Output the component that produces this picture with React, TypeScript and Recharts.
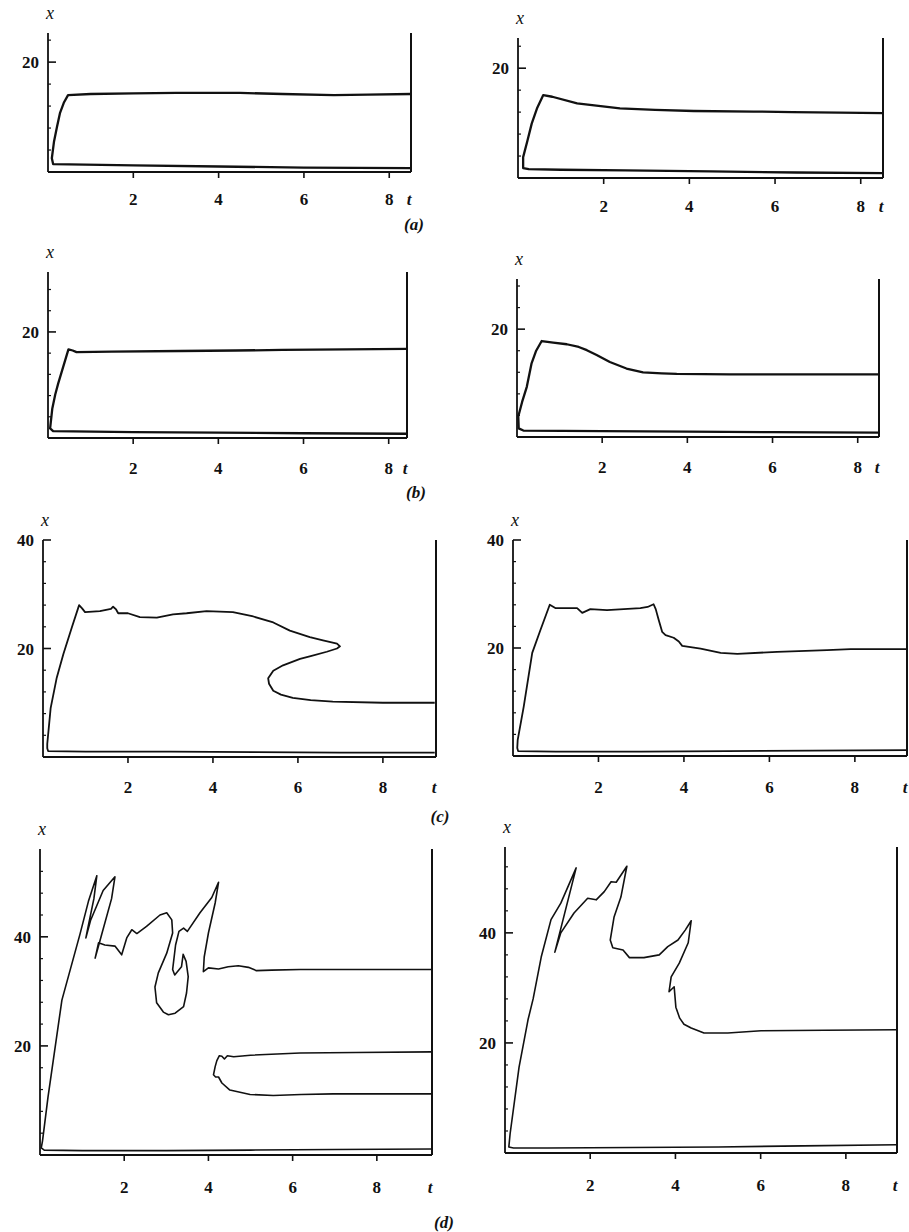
import React from 'react';
import { LineChart, Line, XAxis, YAxis, ReferenceLine } from 'recharts';

type Pt = [number, number];

// ---- tick labels / names ----
const tTickValues = [2, 4, 6, 8];
const tTickLabels = ['2', '4', '6', '8'];
const tAxisName = 't';
const xAxisName = 'x';
const captions = ['(a)', '(b)', '(c)', '(d)'];
const yMajorLow = [20];
const yMajorHigh = [20, 40];
const yMinorLow = [4, 8, 12, 16, 24, 28];
const yMinorHigh = [4, 8, 12, 16, 24, 28, 32, 36, 44, 48, 52];

// ---- curves: [t, x] in drawing order ----
const aLeftCurve: Pt[] = [
  [8.51, 0.7], [6.0, 0.8], [4.0, 1.0], [2.0, 1.2], [0.12, 1.45], [0.09, 2.5], [0.14, 5.5],
  [0.21, 8.2], [0.28, 10.7], [0.37, 12.6], [0.47, 14.0], [1.0, 14.2], [2.0, 14.3], [3.0, 14.4],
  [4.5, 14.4], [5.5, 14.2], [6.7, 14.0], [7.5, 14.1], [8.51, 14.2],
];
const aRightCurve: Pt[] = [
  [8.52, 0.9], [6.5, 1.0], [4.5, 1.2], [2.5, 1.4], [1.0, 1.5], [0.25, 1.6], [0.12, 1.8],
  [0.12, 3.8], [0.22, 6.8], [0.32, 9.9], [0.45, 12.8], [0.59, 15.1], [0.8, 14.8], [1.38, 13.6],
  [2.38, 12.7], [3.2, 12.4], [4.1, 12.2], [5.5, 12.1], [6.4, 12.0], [7.5, 11.9], [8.52, 11.8],
];
const bLeftCurve: Pt[] = [
  [8.43, 0.8], [6.0, 0.9], [4.0, 1.0], [2.0, 1.1], [0.12, 1.3], [0.05, 1.8], [0.1, 5.5],
  [0.17, 8.2], [0.24, 10.3], [0.36, 13.5], [0.48, 16.7], [0.58, 16.5], [0.67, 16.2], [1.5, 16.3],
  [3.1, 16.4], [4.4, 16.5], [5.5, 16.6], [7.0, 16.7], [8.43, 16.8],
];
const bRightCurve: Pt[] = [
  [8.5, 0.8], [6.0, 0.9], [4.0, 1.0], [2.0, 1.1], [0.15, 1.2], [0.04, 1.6], [0.03, 3.8],
  [0.12, 6.5], [0.23, 9.3], [0.34, 13.6], [0.45, 16.0], [0.58, 17.8], [0.85, 17.5], [1.17, 17.2],
  [1.45, 16.7], [1.64, 16.1], [1.87, 15.2], [2.18, 13.9], [2.57, 12.7], [2.96, 12.0], [3.4, 11.8],
  [3.75, 11.7], [5.0, 11.6], [6.5, 11.6], [8.5, 11.6],
];
const cLeftCurve: Pt[] = [
  [9.22, 0.8], [7.0, 0.8], [5.0, 0.9], [3.0, 1.0], [1.0, 1.0], [0.12, 1.1], [0.1, 1.6],
  [0.1, 2.4], [0.18, 9.0], [0.32, 14.5], [0.48, 19.0], [0.68, 23.9], [0.85, 28.0], [0.92, 27.4],
  [0.99, 26.7], [1.34, 26.9], [1.6, 27.3], [1.65, 27.7], [1.72, 27.2], [1.77, 26.5], [2.0, 26.5],
  [2.28, 25.8], [2.68, 25.7], [3.06, 26.3], [3.38, 26.5], [3.85, 26.9], [4.47, 26.7], [4.95, 25.9],
  [5.42, 24.8], [5.81, 23.3], [6.28, 22.1], [6.59, 21.5], [6.92, 20.9], [6.99, 20.4], [6.92, 20.0],
  [6.68, 19.4], [6.3, 18.6], [6.05, 18.1], [5.65, 16.9], [5.42, 15.9], [5.3, 14.5], [5.32, 13.5],
  [5.42, 12.2], [5.6, 11.5], [5.88, 10.9], [6.3, 10.5], [6.82, 10.2], [8.0, 10.0], [9.22, 10.0],
];
const cRightCurve: Pt[] = [
  [9.23, 1.1], [7.0, 1.0], [5.0, 0.9], [3.0, 0.8], [1.0, 0.8], [0.12, 0.9], [0.1, 1.5],
  [0.11, 3.0], [0.25, 9.1], [0.45, 19.1], [0.64, 23.3], [0.86, 28.0], [0.99, 27.4], [1.5, 27.4],
  [1.62, 26.5], [1.81, 27.2], [2.2, 27.0], [2.98, 27.4], [3.15, 27.6], [3.29, 28.1], [3.34, 27.2],
  [3.41, 25.2], [3.49, 23.0], [3.57, 22.4], [3.76, 21.9], [3.88, 21.2], [3.96, 20.4], [4.39, 19.9],
  [4.86, 19.1], [5.25, 18.9], [6.18, 19.3], [7.35, 19.6], [7.9, 19.8], [9.23, 19.8],
];
const dLeftCurve: Pt[] = [
  [9.3, 1.1], [7.0, 1.0], [5.0, 0.9], [3.0, 0.8], [1.0, 0.8], [0.1, 0.9], [0.03, 1.3],
  [0.06, 2.6], [0.19, 10.6], [0.52, 28.4], [0.95, 40.5], [1.15, 46.5], [1.35, 51.2], [1.28, 47.0],
  [1.12, 41.0], [1.09, 39.8], [1.2, 43.0], [1.5, 48.5], [1.78, 51.0], [1.7, 47.0], [1.45, 40.0],
  [1.31, 36.1], [1.39, 38.9], [1.54, 38.5], [1.78, 38.3], [1.94, 36.7], [2.06, 39.8], [2.18, 41.3],
  [2.3, 40.6], [2.53, 41.9], [2.85, 44.0], [3.01, 44.4], [3.13, 43.1], [3.15, 40.7], [3.01, 37.0],
  [2.81, 33.4], [2.73, 30.8], [2.77, 27.9], [2.93, 26.2], [3.05, 25.7], [3.21, 26.0], [3.41, 27.2],
  [3.48, 29.7], [3.52, 32.7], [3.47, 35.5], [3.4, 36.8], [3.36, 34.5], [3.2, 33.0], [3.15, 34.0],
  [3.22, 38.5], [3.3, 41.0], [3.41, 41.6], [3.5, 41.0], [3.8, 44.4], [4.08, 47.2], [4.24, 50.0],
  [4.16, 46.2], [4.0, 40.7], [3.9, 36.3], [3.88, 33.6], [4.0, 34.3], [4.24, 34.1], [4.47, 34.5],
  [4.71, 34.7], [4.95, 34.4], [5.14, 33.8], [5.5, 33.9], [6.18, 34.0], [9.3, 34.0],
];
const dLeftLoop: Pt[] = [
  [9.3, 18.9], [7.5, 18.8], [6.18, 18.7], [5.0, 18.3], [4.6, 18.0], [4.45, 18.2], [4.38, 17.6],
  [4.32, 18.1], [4.26, 18.2], [4.2, 17.3], [4.16, 16.2], [4.12, 14.7], [4.17, 14.3], [4.24, 14.3],
  [4.32, 13.2], [4.51, 11.9], [4.99, 11.1], [5.54, 10.9], [6.2, 11.1], [6.96, 11.2], [8.0, 11.2],
  [9.3, 11.2],
];
const dRightCurve: Pt[] = [
  [9.2, 1.5], [7.0, 1.3], [5.0, 1.1], [3.0, 1.0], [1.0, 0.9], [0.2, 0.9], [0.09, 1.1],
  [0.12, 3.5], [0.33, 15.6], [0.54, 24.2], [0.66, 28.0], [0.85, 35.6], [1.08, 42.4], [1.31, 45.4],
  [1.67, 51.8], [1.17, 36.5], [1.31, 40.0], [1.62, 43.6], [1.94, 46.3], [2.14, 46.0], [2.33, 47.5],
  [2.49, 49.3], [2.61, 49.2], [2.86, 52.1], [2.72, 46.5], [2.56, 42.9], [2.47, 38.7], [2.53, 37.3],
  [2.77, 36.9], [2.92, 35.5], [3.26, 35.5], [3.62, 36.0], [3.82, 37.5], [4.06, 38.7], [4.23, 40.5],
  [4.37, 42.2], [4.3, 38.2], [4.09, 34.5], [3.9, 32.0], [3.85, 29.3], [3.97, 30.2], [4.01, 26.5],
  [4.1, 24.5], [4.2, 23.4], [4.37, 22.7], [4.67, 21.8], [5.23, 21.8], [6.01, 22.2], [7.5, 22.3],
  [9.2, 22.4],
];

// ---- panel layout (pixel boxes of the plot areas) ----
type PanelCfg = {
  curves: Pt[][];
  L: number; T: number; R: number; B: number;
  tMax: number; yMax: number;
  majors: number[]; minors: number[];
  labelDy: number; sw: number;
};

const panels: PanelCfg[] = [
  { curves: [aLeftCurve], L: 48, T: 33, R: 411, B: 172, tMax: 8.51, yMax: 25.3, majors: yMajorLow, minors: yMinorLow, labelDy: 33, sw: 2.3 },
  { curves: [aRightCurve], L: 518, T: 38, R: 883, B: 178, tMax: 8.52, yMax: 25.5, majors: yMajorLow, minors: yMinorLow, labelDy: 34, sw: 2.3 },
  { curves: [bLeftCurve], L: 48, T: 272, R: 407, B: 438, tMax: 8.43, yMax: 31.3, majors: yMajorLow, minors: yMinorLow, labelDy: 36, sw: 2.3 },
  { curves: [bRightCurve], L: 517, T: 279, R: 879, B: 437, tMax: 8.5, yMax: 29.3, majors: yMajorLow, minors: yMinorLow, labelDy: 36, sw: 2.3 },
  { curves: [cLeftCurve], L: 43, T: 540, R: 436, B: 757, tMax: 9.25, yMax: 40, majors: yMajorHigh, minors: yMinorHigh, labelDy: 36, sw: 1.8 },
  { curves: [cRightCurve], L: 513, T: 540, R: 907, B: 756, tMax: 9.22, yMax: 40, majors: yMajorHigh, minors: yMinorHigh, labelDy: 37, sw: 1.8 },
  { curves: [dLeftCurve, dLeftLoop], L: 40, T: 849, R: 432, B: 1155, tMax: 9.31, yMax: 56.1, majors: yMajorHigh, minors: yMinorHigh, labelDy: 38, sw: 1.6 },
  { curves: [dRightCurve], L: 505, T: 847, R: 897, B: 1153, tMax: 9.2, yMax: 55.6, majors: yMajorHigh, minors: yMinorHigh, labelDy: 38, sw: 1.6 },
];

const captionPos = [
  { x: 414, y: 224 },
  { x: 416, y: 492 },
  { x: 440, y: 816 },
  { x: 444, y: 1222 },
];

const numFont = "'Liberation Serif', 'DejaVu Serif', serif";
const INK = '#111';

function Panel({ p }: { p: PanelCfg }) {
  const padL = 60, padT = 30, padR = 30, padB = 50;
  const w = p.R - p.L;
  const h = p.B - p.T;
  const yTicks = Array.from(new Set([...p.minors.filter((v) => v < p.yMax), ...p.majors, p.yMax])).sort((a, b) => a - b);
  const xTicks = [...tTickValues, p.tMax];

  const renderXTick = (props: any) => {
    const { x, y, payload } = props;
    const v = payload.value;
    if (Math.abs(v - p.tMax) < 1e-9) {
      return (
        <text x={x - 2} y={y + p.labelDy} textAnchor="middle" fontFamily={numFont} fontStyle="italic" fontWeight="bold" fontSize={17} fill={INK}>
          {tAxisName}
        </text>
      );
    }
    const idx = tTickValues.indexOf(v);
    return (
      <g>
        <line x1={x} y1={y} x2={x} y2={y + 6} stroke={INK} strokeWidth={1.6} />
        <text x={x} y={y + p.labelDy} textAnchor="middle" fontFamily={numFont} fontWeight="bold" fontSize={17} fill={INK}>
          {tTickLabels[idx]}
        </text>
      </g>
    );
  };

  const renderYTick = (props: any) => {
    const { x, y, payload } = props;
    const v = payload.value;
    const isMajor = p.majors.includes(v);
    const isTop = Math.abs(v - p.yMax) < 1e-9;
    return (
      <g>
        {isMajor && <line x1={x} y1={y} x2={x + 8} y2={y} stroke={INK} strokeWidth={1.6} />}
        {isMajor && (
          <text x={x - 9} y={y + 6} textAnchor="end" fontFamily={numFont} fontWeight="bold" fontSize={17} fill={INK}>
            {String(v)}
          </text>
        )}
        {!isMajor && !isTop && <line x1={x} y1={y} x2={x + 3} y2={y} stroke={INK} strokeWidth={1.2} />}
        {isTop && (
          <text x={x + 2} y={y - 14} textAnchor="middle" fontFamily={numFont} fontStyle="italic" fontSize={18} fill={INK}>
            {xAxisName}
          </text>
        )}
      </g>
    );
  };

  return (
    <div style={{ position: 'absolute', left: p.L - padL, top: p.T - padT }}>
      <LineChart width={w + padL + padR} height={h + padT + padB} margin={{ top: padT, right: padR, bottom: 0, left: 0 }}>
        <XAxis
          type="number"
          dataKey="t"
          domain={[0, p.tMax]}
          allowDataOverflow
          ticks={xTicks}
          interval={0}
          tickLine={false}
          tickSize={0}
          tickMargin={0}
          height={padB}
          axisLine={{ stroke: INK, strokeWidth: 1.8 }}
          tick={renderXTick}
        />
        <YAxis
          type="number"
          domain={[0, p.yMax]}
          allowDataOverflow
          ticks={yTicks}
          interval={0}
          tickLine={false}
          tickSize={0}
          tickMargin={0}
          width={padL}
          axisLine={{ stroke: INK, strokeWidth: 1.8 }}
          tick={renderYTick}
        />
        <ReferenceLine x={p.tMax} stroke={INK} strokeWidth={2} />
        {p.curves.map((c, i) => (
          <Line
            key={i}
            data={c.map(([t, x]) => ({ t, x }))}
            dataKey="x"
            type="linear"
            stroke={INK}
            strokeWidth={p.sw}
            strokeLinejoin="round"
            dot={false}
            activeDot={false}
            isAnimationActive={false}
          />
        ))}
      </LineChart>
    </div>
  );
}

export default function App() {
  return (
    <div style={{ position: 'absolute', left: 0, top: 0, width: 909, height: 1232, background: '#fff', overflow: 'hidden' }}>
      {panels.map((p, i) => (
        <Panel key={i} p={p} />
      ))}
      <svg width={909} height={1232} style={{ position: 'absolute', left: 0, top: 0, pointerEvents: 'none' }}>
        {captions.map((c, i) => (
          <text key={c} x={captionPos[i].x} y={captionPos[i].y + 6} textAnchor="middle" fontFamily={numFont} fontStyle="italic" fontWeight="bold" fontSize={17} fill={INK}>
            {c}
          </text>
        ))}
      </svg>
    </div>
  );
}
